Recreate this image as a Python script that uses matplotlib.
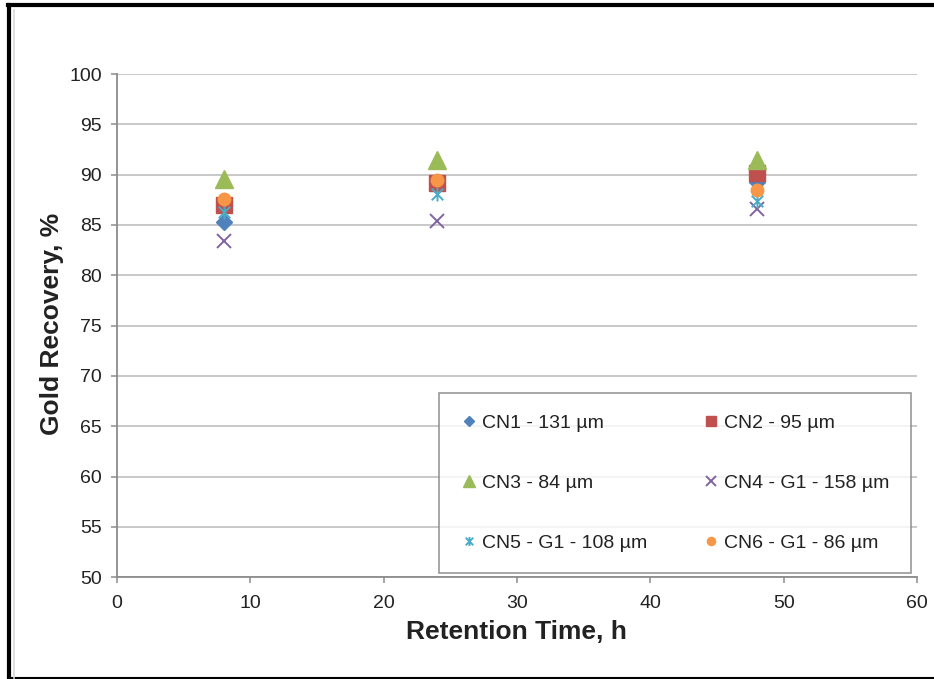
import matplotlib
matplotlib.use("Agg")
import matplotlib.pyplot as plt
from matplotlib.lines import Line2D
from matplotlib.path import Path

matplotlib.rc("font", family=["Liberation Sans", "DejaVu Sans"])

# retention times (h) and gold recovery (%) per sample
times = [8, 24, 48]
cn1 = [85.3, 88.9, 89.3]
cn2 = [87.0, 89.2, 90.2]
cn3 = [89.6, 91.5, 91.5]
cn4 = [83.4, 85.4, 86.6]
cn5 = [86.3, 88.1, 87.4]
cn6 = [87.6, 89.5, 88.5]
labels = ["CN1 - 131 µm", "CN2 - 95 µm", "CN3 - 84 µm",
          "CN4 - G1 - 158 µm", "CN5 - G1 - 108 µm", "CN6 - G1 - 86 µm"]

# excel style "star": an x with a vertical bar through it
star = Path([(-1, -1), (1, 1), (-1, 1), (1, -1), (0, -1.2), (0, 1.2)],
            [Path.MOVETO, Path.LINETO, Path.MOVETO, Path.LINETO,
             Path.MOVETO, Path.LINETO])

styles = [
    dict(marker="D", color="#4F81BD", ms=8.5),
    dict(marker="s", color="#C0504D", ms=12),
    dict(marker="^", color="#9BBB59", ms=12.5),
    dict(marker="x", color="#8064A2", ms=10, mew=1.4),
    dict(marker=star, color="#4BACC6", ms=10, mew=1.4),
    dict(marker="o", color="#F79646", ms=9),
]

fig = plt.figure(figsize=(9.34, 6.79), dpi=100)
ax = fig.add_axes([0.1253, 0.150, 0.8565, 0.741])

handles = []
for ys, st, lab in zip([cn1, cn2, cn3, cn4, cn5, cn6], styles, labels):
    h, = ax.plot(times, ys, ls="none", marker=st["marker"], color=st["color"],
                 ms=st["ms"], mew=st.get("mew", 1.0), label=lab, zorder=3)
    handles.append(h)

ax.set_xlim(0, 60)
ax.set_ylim(50, 100)
ax.set_xticks(range(0, 61, 10))
ax.set_yticks(range(50, 101, 5))
ax.grid(axis="y", color="#c8c8c8", lw=1.4, zorder=0)
ax.set_axisbelow(True)
for s in ["top", "right"]:
    ax.spines[s].set_visible(False)
for s in ["left", "bottom"]:
    ax.spines[s].set_color("#8c8c8c")
    ax.spines[s].set_linewidth(1.3)
ax.tick_params(direction="out", length=4, width=1.1, color="#8c8c8c",
               labelsize=14, labelcolor="#222222")
ax.tick_params(axis="x", pad=9)
ax.tick_params(axis="y", pad=7)

ax.set_xlabel("Retention Time, h", fontsize=19, fontweight="bold", color="#222222")
ax.set_ylabel("Gold Recovery, %", fontsize=19, fontweight="bold", color="#222222")
ax.xaxis.label.set_va("center")
ax.yaxis.label.set_va("center")
ax.xaxis.set_label_coords(0.499, -0.109)
ax.yaxis.set_label_coords(-0.081, 0.504)

# legend rows: CN1/CN2, CN3/CN4, CN5/CN6
order = [0, 2, 4, 1, 3, 5]
leg = ax.legend([handles[i] for i in order], [labels[i] for i in order],
                ncol=2, loc="upper right", bbox_to_anchor=(0.9925, 0.3658),
                fontsize=14, frameon=True, fancybox=False,
                edgecolor="#7f7f7f", borderpad=1.1, labelspacing=2.18,
                handlelength=0.8, handletextpad=0.3, markerscale=0.65,
                borderaxespad=0, columnspacing=2.85)
leg.get_frame().set_linewidth(1.2)
for t in leg.get_texts():
    t.set_color("#222222")

# screenshot border
fig.add_artist(Line2D([0.009, 1.0], [0.993, 0.993], color="black", lw=3,
                      transform=fig.transFigure))
fig.add_artist(Line2D([0.0095, 0.0095], [0.002, 0.993], color="black", lw=3,
                      transform=fig.transFigure))
fig.add_artist(Line2D([0.009, 1.0], [0.002, 0.002], color="black", lw=1.5,
                      transform=fig.transFigure))
fig.add_artist(Line2D([0.0155, 0.0155], [0.002, 0.985], color="#d8d8d8", lw=1.2,
                      transform=fig.transFigure))

fig.savefig("out.png", dpi=100)
